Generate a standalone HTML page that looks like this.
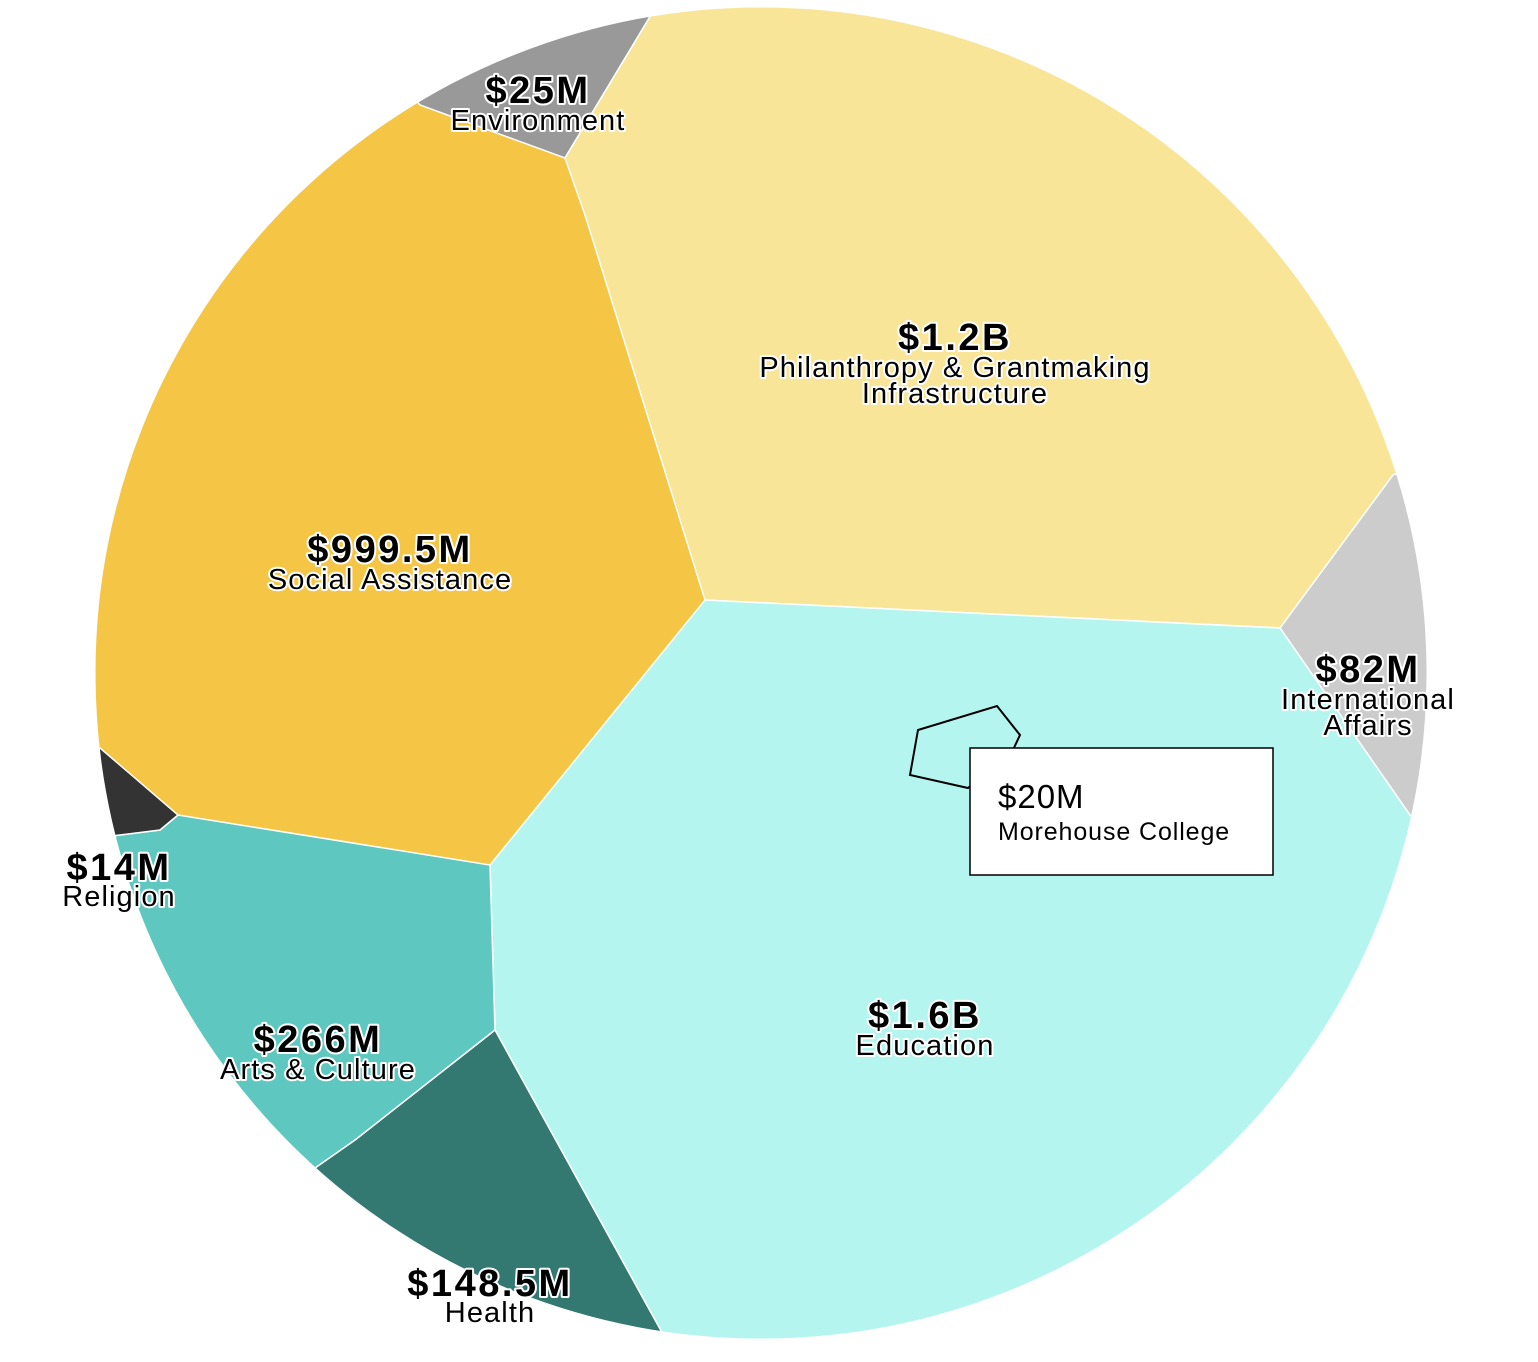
<!DOCTYPE html>
<html><head><meta charset="utf-8"><style>
html,body{margin:0;padding:0;background:#fff;}
svg{display:block;}
.lab{font-family:"Liberation Sans",Arial,sans-serif;text-anchor:middle;paint-order:stroke;stroke:#fff;stroke-width:4px;stroke-linejoin:round;fill:#000;}
.big{font-size:38px;font-weight:bold;letter-spacing:2.5px;}
.sm{font-size:29px;letter-spacing:1.1px;}
.tt{font-family:"Liberation Sans",Arial,sans-serif;fill:#000;}
</style></head><body>
<svg width="1538" height="1362" viewBox="0 0 1538 1362">
<defs><clipPath id="c"><circle cx="761" cy="673" r="666"/></clipPath></defs>
<g clip-path="url(#c)" stroke="#fff" stroke-width="1.5">
<rect x="0" y="0" width="1538" height="1362" fill="#f5c545"/>
<polygon points="380,0 660,0 565,158 420,105 380,60" fill="#999"/>
<polygon points="660,0 1538,0 1538,420 1393,475 1280,628 705,600 585,215 565,158" fill="#f8e598"/>
<polygon points="1393,475 1538,420 1538,900 1410,815 1280,628" fill="#ccc"/>
<polygon points="705,600 1280,628 1410,815 1538,900 1538,1362 665,1362 665,1338 495,1030 490,865" fill="#b4f5f0"/>
<polygon points="495,1030 665,1338 665,1362 300,1362 300,1180 315,1168 355,1140" fill="#347872"/>
<polygon points="178,815 490,865 495,1030 355,1140 315,1168 300,1180 0,1180 0,850 160,830" fill="#5ec8c0"/>
<polygon points="0,740 100,748 178,815 160,830 0,850" fill="#333"/>
</g>
<circle cx="761" cy="673" r="666" fill="none" stroke="#fff" stroke-width="1"/>
<polygon points="918,730 997,706 1020,735 1012,752 968,788 910,775" fill="none" stroke="#000" stroke-width="2"/>
<rect x="970" y="748" width="303" height="127" fill="#fff" stroke="#000" stroke-width="1.5"/>
<text class="tt" x="998" y="808" font-size="33" letter-spacing="1">$20M</text>
<text class="tt" x="998" y="840" font-size="25" letter-spacing="0.9">Morehouse College</text>
<text class="lab big" x="538" y="103">$25M</text><text class="lab sm" x="538" y="130">Environment</text>
<text class="lab big" x="955" y="350">$1.2B</text><text class="lab sm" x="955" y="377">Philanthropy &amp; Grantmaking</text><text class="lab sm" x="955" y="403">Infrastructure</text>
<text class="lab big" x="390" y="562">$999.5M</text><text class="lab sm" x="390" y="589">Social Assistance</text>
<text class="lab big" x="1368" y="682">$82M</text><text class="lab sm" x="1368" y="709">International</text><text class="lab sm" x="1368" y="735">Affairs</text>
<text class="lab big" x="119" y="880">$14M</text><text class="lab sm" x="119" y="906">Religion</text>
<text class="lab big" x="925" y="1028">$1.6B</text><text class="lab sm" x="925" y="1055">Education</text>
<text class="lab big" x="318" y="1052">$266M</text><text class="lab sm" x="318" y="1079">Arts &amp; Culture</text>
<text class="lab big" x="490" y="1296">$148.5M</text><text class="lab sm" x="490" y="1322">Health</text>
</svg>
</body></html>
